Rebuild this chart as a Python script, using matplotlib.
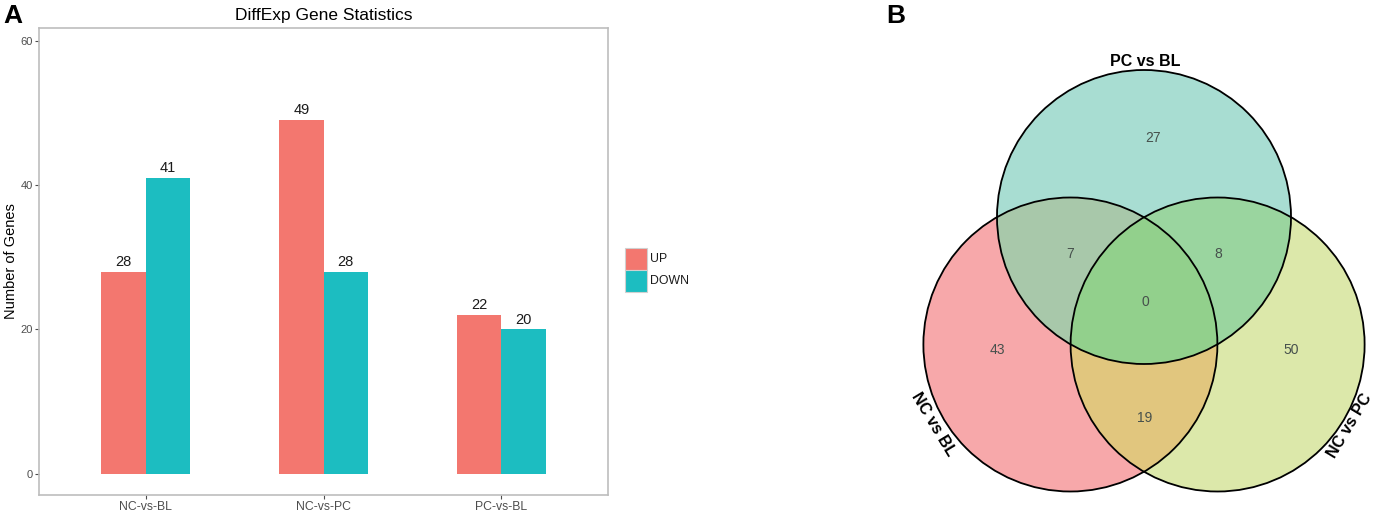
import numpy as np
import matplotlib
matplotlib.use('Agg')
import matplotlib.pyplot as plt
from matplotlib.patches import Circle, Rectangle

plt.rcParams['font.family'] = ['Liberation Sans', 'DejaVu Sans']

# bar chart data
categories = ['NC-vs-BL', 'NC-vs-PC', 'PC-vs-BL']
up_counts = [28, 49, 22]
down_counts = [41, 28, 20]
series_names = ['UP', 'DOWN']

# venn data (sets in order: left, right, top)
venn_sets = ['NC vs BL', 'NC vs PC', 'PC vs BL']
# region keys = membership of (left, right, top)
venn_regions = [(1, 0, 0), (0, 1, 0), (0, 0, 1), (1, 0, 1), (0, 1, 1), (1, 1, 0), (1, 1, 1)]
venn_counts = [43, 50, 27, 7, 8, 19, 0]

up_col = '#F3776F'
down_col = '#1CBDC1'

region_colors = {
    (1, 0, 0): '#F7A8AA',
    (0, 1, 0): '#DCE8AA',
    (0, 0, 1): '#A9DDD2',
    (1, 0, 1): '#A8C8AA',
    (0, 1, 1): '#9AD5A0',
    (1, 1, 0): '#E2C67F',
    (1, 1, 1): '#92D08C',
}

W, H = 1376, 513
fig = plt.figure(figsize=(W / 100, H / 100), dpi=100)

# ---------------- panel A ----------------
ax = fig.add_axes([39 / W, (H - 495) / H, (608 - 39) / W, (495 - 28) / H])
x = np.arange(1, len(categories) + 1)
bw = 0.25
b1 = ax.bar(x - bw / 2, up_counts, bw, color=up_col, label=series_names[0])
b2 = ax.bar(x + bw / 2, down_counts, bw, color=down_col, label=series_names[1])
for bars, vals in [(b1, up_counts), (b2, down_counts)]:
    for b, v in zip(bars, vals):
        ax.annotate(str(v), (b.get_x() + b.get_width() / 2, v), xytext=(0, 2),
                    textcoords='offset points', ha='center', va='bottom',
                    fontsize=10.5, color='#1a1a1a')

ax.set_xlim(0.4, 3.6)
ax.set_ylim(-2.94, 61.74)
ax.set_yticks([0, 20, 40, 60])
ax.set_xticks(x)
ax.set_xticklabels(categories)
ax.tick_params(axis='y', labelsize=8, labelcolor='#4d4d4d', color='#4d4d4d', length=3, width=0.8, pad=1.5)
ax.tick_params(axis='x', labelsize=8.8, labelcolor='#4d4d4d', color='#4d4d4d', length=3, width=0.8, pad=1.5)
for s in ax.spines.values():
    s.set_color('#bdbdbd')
    s.set_linewidth(1.2)
ax.set_ylabel('Number of Genes', fontsize=10.5, labelpad=2)
ax.set_title('DiffExp Gene Statistics', fontsize=12.5, pad=6)

# legend keys
for i, (name, col) in enumerate(zip(series_names, [up_col, down_col])):
    top = 248 + i * 22
    fig.add_artist(Rectangle((625 / W, 1 - (top + 22) / H), 22 / W, 22 / H,
                             transform=fig.transFigure, facecolor=col,
                             edgecolor='#d0d0d0', lw=0.8))
    fig.text(650 / W, 1 - (top + 11) / H, name, fontsize=8.8, va='center', ha='left', color='#1a1a1a')

fig.text(3 / W, 1 - 4 / H, 'A', fontsize=19, fontweight='bold', va='top', ha='left')

# ---------------- panel B ----------------
vx0 = 880
vax = fig.add_axes([vx0 / W, 0, (W - vx0) / W, 1])
vax.axis('off')

cx, cy = 1144, 302     # centroid
dist = 85              # centroid -> circle centre
radius = 147
angles = np.deg2rad([210, 330, 90])   # left, right, top (screen y is flipped)
centres = [(cx + dist * np.cos(a), cy - dist * np.sin(a)) for a in angles]

# rasterise region colours
ss = 3
gx = np.linspace(vx0, W, (W - vx0) * ss)
gy = np.linspace(0, H, H * ss)
XX, YY = np.meshgrid(gx, gy)
inside = [((XX - c[0]) ** 2 + (YY - c[1]) ** 2) <= radius ** 2 for c in centres]
img = np.zeros(XX.shape + (4,))
for key, col in region_colors.items():
    m = np.ones(XX.shape, bool)
    for k, ins in zip(key, inside):
        m &= ins if k else ~ins
    img[m] = matplotlib.colors.to_rgba(col)
vax.imshow(img, extent=(vx0, W, H, 0), interpolation='antialiased', zorder=1)
vax.set_xlim(vx0, W)
vax.set_ylim(H, 0)
vax.set_aspect('auto')

for c in centres:
    vax.add_patch(Circle(c, radius, fill=False, edgecolor='black', lw=1.3, zorder=3))

label_pos = [(997, 350), (1291, 350), (1153, 138), (1070, 254), (1218, 254), (1145, 418), (1145, 302)]
for (px, py), n in zip(label_pos, venn_counts):
    vax.text(px, py, str(n), fontsize=10, ha='center', va='center', color='#46504c', zorder=4)

set_label_pos = [(933, 424, -59), (1350, 426, 59), (1145, 61, 0)]
for (px, py, rot), name in zip(set_label_pos, venn_sets):
    vax.text(px, py, name, fontsize=11.5, fontweight='bold', ha='center', va='center',
             rotation=rot, rotation_mode='anchor', color='black', zorder=4)

fig.text(886 / W, 1 - 4 / H, 'B', fontsize=19, fontweight='bold', va='top', ha='left')

fig.savefig('out.png', dpi=100)
